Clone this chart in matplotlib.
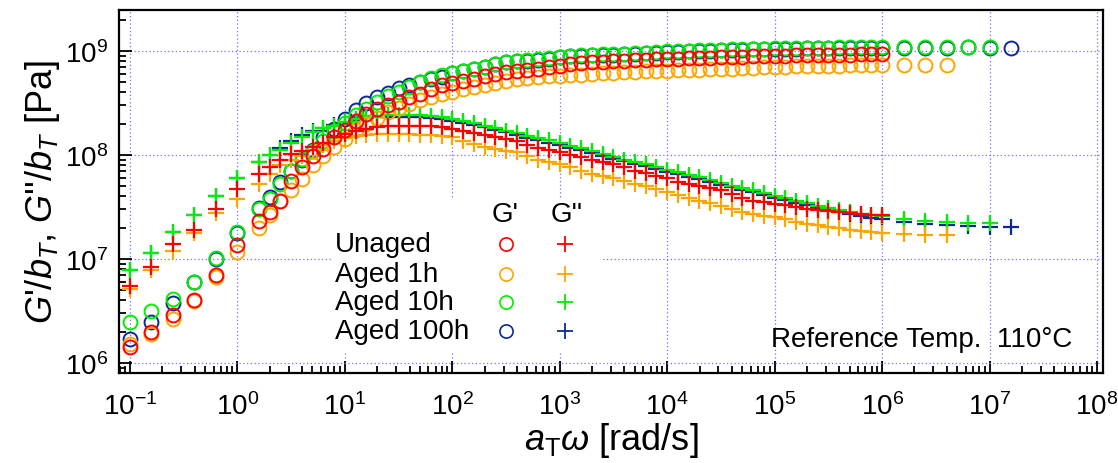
import matplotlib
matplotlib.use("Agg")
import matplotlib.pyplot as plt
import numpy as np
from matplotlib.patches import Rectangle
from matplotlib.ticker import FixedLocator, LogFormatterMathtext, NullFormatter

plt.rcParams['font.family'] = ['Liberation Sans', 'DejaVu Sans']
plt.rcParams['mathtext.fontset'] = 'custom'
plt.rcParams['mathtext.rm'] = 'Liberation Sans'
plt.rcParams['mathtext.it'] = 'Liberation Sans:italic'

# reduced frequency a_T*omega, log10 [rad/s]
log_w = [-1.0, -0.8, -0.6, -0.4, -0.2, 0.0, 0.2,
         0.3, 0.4, 0.5, 0.6, 0.7, 0.8, 0.9, 1.0,
         1.1, 1.2, 1.3, 1.4, 1.5, 1.6, 1.7, 1.8, 1.9, 2.0,
         2.1, 2.2, 2.3, 2.4, 2.5, 2.6, 2.7, 2.8, 2.9, 3.0,
         3.1, 3.2, 3.3, 3.4, 3.5, 3.6, 3.7, 3.8, 3.9, 4.0,
         4.1, 4.2, 4.3, 4.4, 4.5, 4.6, 4.7, 4.8, 4.9, 5.0,
         5.1, 5.2, 5.3, 5.4, 5.5, 5.6, 5.7, 5.8, 5.9, 6.0,
         6.2, 6.4, 6.6, 6.8, 7.0, 7.2]

labels = ['Unaged', 'Aged 1h', 'Aged 10h', 'Aged 100h']
colors = ['#ff0000', '#ffa500', '#00ee00', '#0a2a9a']

# log10 G'/b_T [Pa]
gp_unaged = [6.15, 6.30, 6.46, 6.61, 6.85, 7.13, 7.37,
             7.45, 7.56, 7.75, 7.88, 7.99, 8.06, 8.17, 8.24,
             8.33, 8.39, 8.44, 8.48, 8.51, 8.56, 8.59, 8.63, 8.67, 8.69,
             8.71, 8.735, 8.76, 8.78, 8.80, 8.81, 8.82, 8.83, 8.845, 8.86,
             8.87, 8.88, 8.89, 8.895, 8.90, 8.905, 8.91, 8.915, 8.92, 8.92,
             8.925, 8.93, 8.935, 8.935, 8.94, 8.94, 8.945, 8.95, 8.95, 8.955,
             8.955, 8.96, 8.96, 8.96, 8.965, 8.965, 8.965, 8.97, 8.97, 8.97]
gp_1h = [6.18, 6.28, 6.42, 6.60, 6.83, 7.07, 7.30,
         7.42, 7.56, 7.66, 7.77, 7.90, 7.99, 8.08, 8.15,
         8.24, 8.30, 8.36, 8.41, 8.45, 8.49, 8.53, 8.56, 8.59, 8.61,
         8.63, 8.65, 8.67, 8.69, 8.71, 8.73, 8.74, 8.75, 8.755, 8.76,
         8.765, 8.77, 8.78, 8.785, 8.79, 8.80, 8.80, 8.805, 8.81, 8.81,
         8.815, 8.82, 8.82, 8.825, 8.83, 8.83, 8.835, 8.84, 8.845, 8.85,
         8.85, 8.855, 8.855, 8.86, 8.86, 8.86, 8.865, 8.865, 8.865, 8.865,
         8.865, 8.865, 8.865]
gp_10h = [6.39, 6.50, 6.62, 6.78, 7.01, 7.26, 7.48,
          7.58, 7.72, 7.85, 7.96, 8.04, 8.13, 8.23, 8.31,
          8.38, 8.44, 8.51, 8.57, 8.61, 8.65, 8.70, 8.74, 8.765, 8.79,
          8.81, 8.83, 8.85, 8.87, 8.89, 8.905, 8.915, 8.925, 8.935, 8.945,
          8.955, 8.96, 8.965, 8.97, 8.97, 8.975, 8.98, 8.985, 8.99, 8.995,
          9.0, 9.0, 9.005, 9.01, 9.01, 9.015, 9.015, 9.02, 9.02, 9.025,
          9.025, 9.025, 9.03, 9.03, 9.03, 9.035, 9.035, 9.035, 9.035, 9.035,
          9.035, 9.035, 9.035, 9.035, 9.035]
gp_100h = [6.23, 6.39, 6.58, 6.78, 7.00, 7.25, 7.49,
           7.60, 7.74, 7.85, 7.95, 8.05, 8.17, 8.25, 8.35,
           8.43, 8.50, 8.56, 8.60, 8.64, 8.67, 8.70, 8.73, 8.75, 8.79,
           8.81, 8.83, 8.85, 8.87, 8.89, 8.90, 8.905, 8.915, 8.925, 8.94,
           8.95, 8.955, 8.96, 8.96, 8.965, 8.97, 8.975, 8.98, 8.985, 8.99,
           8.99, 8.995, 9.0, 9.0, 9.005, 9.01, 9.01, 9.015, 9.015, 9.02,
           9.02, 9.02, 9.025, 9.025, 9.025, 9.03, 9.03, 9.03, 9.03, 9.03,
           9.03, 9.03, 9.03, 9.035, 9.03, 9.03]

# log10 G''/b_T [Pa]
gpp_unaged = [6.74, 6.92, 7.14, 7.28, 7.48, 7.67, 7.82,
              7.88, 7.95, 8.01, 8.04, 8.08, 8.12, 8.17, 8.20,
              8.23, 8.25, 8.27, 8.275, 8.28, 8.28, 8.28, 8.275, 8.27, 8.25,
              8.23, 8.21, 8.19, 8.17, 8.15, 8.13, 8.10, 8.07, 8.05, 8.03,
              8.00, 7.98, 7.955, 7.935, 7.91, 7.88, 7.85, 7.825, 7.80, 7.78,
              7.745, 7.72, 7.70, 7.685, 7.66, 7.625, 7.59, 7.56, 7.545, 7.53,
              7.515, 7.50, 7.485, 7.475, 7.465, 7.455, 7.44, 7.43, 7.425, 7.42]
gpp_1h = [6.71, 6.89, 7.08, 7.25, 7.44, 7.58, 7.72,
          7.82, 7.90, 7.95, 7.99, 8.05, 8.10, 8.13, 8.16,
          8.18, 8.19, 8.20, 8.20, 8.20, 8.20, 8.195, 8.19, 8.18, 8.17,
          8.13, 8.11, 8.08, 8.06, 8.04, 8.03, 7.99, 7.95, 7.93, 7.91,
          7.88, 7.845, 7.82, 7.80, 7.775, 7.75, 7.725, 7.70, 7.67, 7.64,
          7.615, 7.585, 7.56, 7.54, 7.51, 7.485, 7.455, 7.43, 7.415, 7.40,
          7.385, 7.355, 7.34, 7.325, 7.31, 7.295, 7.28, 7.27, 7.26, 7.25,
          7.24, 7.23, 7.23]
gpp_10h = [6.89, 7.06, 7.26, 7.42, 7.61, 7.78, 7.93,
           8.00, 8.05, 8.12, 8.17, 8.22, 8.26, 8.28, 8.32,
           8.35, 8.36, 8.37, 8.38, 8.38, 8.38, 8.38, 8.375, 8.37, 8.35,
           8.33, 8.31, 8.28, 8.26, 8.23, 8.21, 8.185, 8.16, 8.14, 8.115,
           8.09, 8.065, 8.04, 8.01, 7.985, 7.955, 7.93, 7.91, 7.885, 7.86,
           7.835, 7.81, 7.785, 7.755, 7.73, 7.705, 7.685, 7.66, 7.635, 7.61,
           7.585, 7.56, 7.535, 7.51, 7.49, 7.475, 7.455, 7.435, 7.42, 7.41,
           7.385, 7.37, 7.355, 7.35, 7.35]
gpp_100h = [6.89, 7.06, 7.26, 7.42, 7.61, 7.78, 7.93,
            8.00, 8.07, 8.13, 8.19, 8.23, 8.26, 8.29, 8.32,
            8.34, 8.355, 8.365, 8.37, 8.37, 8.37, 8.365, 8.36, 8.35, 8.33,
            8.31, 8.29, 8.265, 8.24, 8.22, 8.19, 8.165, 8.14, 8.12, 8.095,
            8.07, 8.045, 8.02, 7.99, 7.965, 7.94, 7.915, 7.89, 7.865, 7.84,
            7.815, 7.79, 7.765, 7.74, 7.715, 7.69, 7.665, 7.64, 7.615, 7.59,
            7.565, 7.54, 7.515, 7.495, 7.475, 7.455, 7.435, 7.415, 7.395, 7.38,
            7.36, 7.34, 7.325, 7.315, 7.305, 7.305]

gp_all = [gp_unaged, gp_1h, gp_10h, gp_100h]
gpp_all = [gpp_unaged, gpp_1h, gpp_10h, gpp_100h]

fig = plt.figure(figsize=(11.18, 4.64), dpi=100)
ax = fig.add_axes([0.1064, 0.194, 0.8802, 0.7823])
ax.set_xscale('log')
ax.set_yscale('log')

w = 10.0 ** np.array(log_w)
for i in [3, 2, 1, 0]:
    gp = 10.0 ** np.array(gp_all[i])
    gpp = 10.0 ** np.array(gpp_all[i])
    ax.plot(w[:len(gp)], gp, 'o', ms=10, mfc='none', mec=colors[i], mew=1.4, zorder=3)
    ax.plot(w[:len(gpp)], gpp, '+', ms=12, mec=colors[i], mew=1.6, zorder=3)

ax.set_xlim(10 ** -1.102, 10 ** 8.056)
ax.set_ylim(10 ** 5.904, 10 ** 9.394)

# decade ticks inside the view only, minor ticks at 2..9
xmaj = [10.0 ** k for k in range(-1, 9)]
ymaj = [10.0 ** k for k in range(6, 10)]
xmin = [m * 10.0 ** k for k in range(-2, 9) for m in range(2, 10)]
ymin = [m * 10.0 ** k for k in range(5, 10) for m in range(2, 10)]
ax.xaxis.set_major_locator(FixedLocator(xmaj))
ax.yaxis.set_major_locator(FixedLocator(ymaj))
ax.xaxis.set_minor_locator(FixedLocator(xmin))
ax.yaxis.set_minor_locator(FixedLocator(ymin))
ax.xaxis.set_minor_formatter(NullFormatter())
ax.yaxis.set_minor_formatter(NullFormatter())
ax.xaxis.set_major_formatter(LogFormatterMathtext())
ax.yaxis.set_major_formatter(LogFormatterMathtext())

ax.tick_params(which='both', direction='in', top=False, right=False, width=1.3)
ax.tick_params(which='major', length=9, labelsize=20)
ax.tick_params(axis='x', which='major', pad=14)
ax.tick_params(axis='y', which='major', pad=8)
ax.tick_params(which='minor', length=5)
for s in ax.spines.values():
    s.set_linewidth(1.6)

ax.grid(True, which='major', color='#6f6fff', linestyle=(0, (1, 2)), linewidth=0.9)
ax.set_axisbelow(True)

ax.set_xlabel(r"$a_\mathrm{T}\omega$ [rad/s]", fontsize=26, labelpad=0)
ax.set_ylabel(r"$G$'/$b_T$, $G$''/$b_T$ [Pa]", fontsize=26, labelpad=2)

# legend block: white patch, sample names and symbol columns
ax.add_patch(Rectangle((0.2175, 0.061), 0.272, 0.418, transform=ax.transAxes,
                       facecolor='white', edgecolor='none', zorder=4))
lf = {'fontsize': 20}
ax.text(0.392, 0.438, "G'", ha='center', va='center', transform=ax.transAxes, zorder=5, **lf)
ax.text(0.455, 0.438, "G''", ha='center', va='center', transform=ax.transAxes, zorder=5, **lf)
rows = [0.355, 0.273, 0.196, 0.116]
for i in range(4):
    ax.text(0.2195, rows[i], labels[i], ha='left', va='center', transform=ax.transAxes, zorder=5, **lf)
    ax.plot([0.393], [rows[i]], 'o', ms=9.5, mfc='none', mec=colors[i], mew=1.2,
            transform=ax.transAxes, zorder=5, clip_on=False)
    ax.plot([0.453], [rows[i]], '+', ms=11, mec=colors[i], mew=1.3,
            transform=ax.transAxes, zorder=5, clip_on=False)

ax.text(0.9685, 0.094, u"Reference Temp.  110\u00b0C", ha='right', va='center',
        transform=ax.transAxes, **lf)

fig.savefig('out.png', dpi=100)
